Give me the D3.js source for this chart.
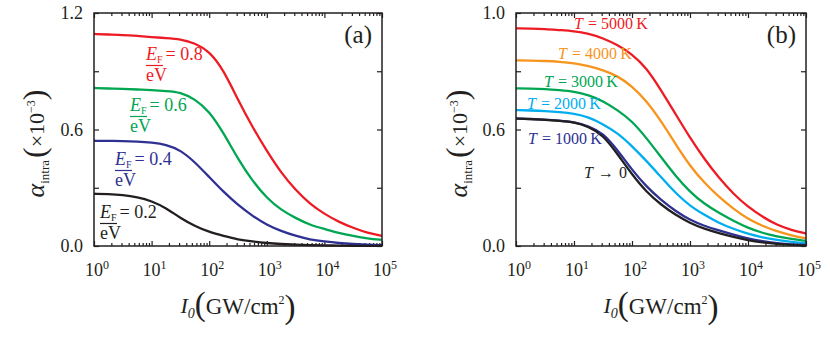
<!DOCTYPE html>
<html>
<head>
<meta charset="utf-8">
<script src="https://cdn.jsdelivr.net/npm/d3@7"></script>
</head>
<body style="margin:0">
<div class="canvas"></div>
<script>
// intensity samples, GW/cm^2 (quarter decades)
const intensity = [1, 1.778, 3.162, 5.623, 10, 17.78, 31.62, 56.23, 100, 177.8, 316.2, 562.3,
  1000, 1778, 3162, 5623, 10000, 17780, 31620, 56230, 100000];

// panel (a): different Fermi levels
const efLabels = ['0.8', '0.6', '0.4', '0.2'];
const alphaEF08 = [1.092, 1.089, 1.087, 1.082, 1.076, 1.071, 1.066, 1.045, 1.004, 0.906, 0.752,
  0.613, 0.489, 0.376, 0.288, 0.216, 0.165, 0.124, 0.093, 0.067, 0.052];
const alphaEF06 = [0.814, 0.811, 0.809, 0.806, 0.803, 0.798, 0.793, 0.757, 0.695, 0.582, 0.448,
  0.335, 0.247, 0.185, 0.144, 0.108, 0.088, 0.067, 0.052, 0.039, 0.031];
const alphaEF04 = [0.542, 0.541, 0.541, 0.538, 0.533, 0.523, 0.494, 0.433, 0.355, 0.278, 0.211,
  0.155, 0.108, 0.077, 0.052, 0.033, 0.023, 0.015, 0.010, 0.007, 0.004];
const alphaEF02 = [0.269, 0.268, 0.263, 0.252, 0.232, 0.196, 0.144, 0.103, 0.072, 0.052, 0.033,
  0.023, 0.015, 0.010, 0.007, 0.004, 0.003, 0.002, 0.001, 0.0005, 0.0002];

// panel (b): different temperatures
const tempLabels = ['5000', '4000', '3000', '2000', '1000', '0'];
const alphaT5000 = [1.121, 1.120, 1.118, 1.112, 1.107, 1.094, 1.071, 1.035, 0.989, 0.917, 0.803,
  0.680, 0.557, 0.447, 0.350, 0.268, 0.201, 0.150, 0.108, 0.082, 0.064];
const alphaT4000 = [0.956, 0.955, 0.953, 0.949, 0.942, 0.927, 0.906, 0.876, 0.824, 0.747, 0.644,
  0.525, 0.412, 0.324, 0.252, 0.191, 0.139, 0.103, 0.075, 0.054, 0.039];
const alphaT3000 = [0.812, 0.811, 0.809, 0.803, 0.796, 0.778, 0.747, 0.700, 0.644, 0.556, 0.458,
  0.361, 0.278, 0.216, 0.170, 0.129, 0.093, 0.067, 0.049, 0.036, 0.026];
const alphaT2000 = [0.700, 0.698, 0.695, 0.690, 0.682, 0.664, 0.628, 0.582, 0.515, 0.438, 0.355,
  0.273, 0.206, 0.160, 0.118, 0.088, 0.062, 0.044, 0.031, 0.021, 0.013];
const alphaT1000 = [0.657, 0.654, 0.651, 0.646, 0.639, 0.618, 0.582, 0.494, 0.392, 0.305, 0.237,
  0.180, 0.134, 0.103, 0.080, 0.058, 0.038, 0.024, 0.015, 0.008, 0.005];
const alphaT0    = [0.656, 0.653, 0.650, 0.645, 0.638, 0.615, 0.572, 0.474, 0.368, 0.278, 0.213,
  0.160, 0.118, 0.088, 0.066, 0.046, 0.029, 0.018, 0.010, 0.005, 0.003];

// axis ticks
const decadeExps = [0, 1, 2, 3, 4, 5];
const yTickVals = [0, 0.3, 0.6, 0.9, 1.2];
const yLabelVals = [0, 0.6, 1.2];
const yLabelsA = ['0.0', '0.6', '1.2'];
const yLabelsB = ['0.0', '0.6', '1.0'];

const FONT = 'Liberation Serif';
const svg = d3.select('.canvas')
  .append('svg')
    .attr('width', 830)
    .attr('height', 337);

const H = 233;
const ink = '#231f20';

// text helper, font set right away
const addText = (parent, size) => parent.append('text')
  .attr('font-family', FONT)
  .style('font-family', FONT)
  .attr('font-size', size);

function drawPanel(opt) {
  const g = svg.append('g').attr('transform', `translate(${opt.left}, 13)`);
  const x = d3.scaleLog().domain([1, 1e5]).range([0, opt.width]);
  const y = d3.scaleLinear().domain([0, 1.2]).range([H, 0]);

  const majors = decadeExps.map(e => Math.pow(10, e));
  const minors = [];
  decadeExps.slice(0, 5).forEach(e => {
    for (let k = 2; k < 10; k++) minors.push(k * Math.pow(10, e));
  });

  // inward ticks on all four sides
  const axes = [
    [d3.axisBottom(x).tickValues(majors).tickSize(-5), `translate(0, ${H})`],
    [d3.axisBottom(x).tickValues(minors).tickSize(-3), `translate(0, ${H})`],
    [d3.axisTop(x).tickValues(majors).tickSize(-5), 'translate(0, 0)'],
    [d3.axisTop(x).tickValues(minors).tickSize(-3), 'translate(0, 0)'],
    [d3.axisLeft(y).tickValues(yTickVals).tickSize(-5), 'translate(0, 0)'],
    [d3.axisRight(y).tickValues(yTickVals).tickSize(-5), `translate(${opt.width}, 0)`]
  ];
  axes.forEach(([ax, tr]) => {
    const ag = g.append('g').attr('transform', tr).call(ax.tickFormat(''));
    ag.select('.domain').remove();
    ag.selectAll('text').remove();
    ag.selectAll('line').attr('stroke', ink).attr('stroke-width', 1.2);
  });

  // curves
  const line = d3.line()
    .x(d => x(d.I))
    .y(d => y(d.v))
    .curve(d3.curveBasis);
  opt.series.forEach(s => {
    g.append('path')
      .datum(intensity.map((I, i) => ({I, v: s.values[i]})))
      .attr('fill', 'none')
      .attr('stroke', s.color)
      .attr('stroke-width', 2.3)
      .attr('d', line);
  });

  // frame
  g.append('rect')
    .attr('width', opt.width).attr('height', H)
    .attr('fill', 'none').attr('stroke', ink).attr('stroke-width', 1.5);

  // x tick labels 10^n
  decadeExps.forEach(e => {
    const t = addText(g, 18)
      .attr('x', x(Math.pow(10, e)) + 3)
      .attr('y', H + 30)
      .attr('text-anchor', 'middle')
      .attr('fill', ink);
    t.append('tspan').text('10');
    t.append('tspan').attr('font-size', 12).attr('dy', -7).text(e);
  });

  // y tick labels
  yLabelVals.forEach((v, i) => {
    addText(g, 18)
      .attr('x', -11)
      .attr('y', y(v) + 6)
      .attr('text-anchor', 'end')
      .attr('fill', ink)
      .text(opt.yLabels[i]);
  });

  // y title
  const yt = addText(g, 22)
    .attr('transform', `translate(${opt.yTitleX}, ${H / 2 + 14}) rotate(-90)`)
    .attr('text-anchor', 'middle')
    .attr('fill', ink);
  yt.append('tspan').attr('font-style', 'italic').attr('font-size', 26).text('α');
  yt.append('tspan').attr('font-size', 13).attr('dy', 5).text('intra');
  yt.append('tspan').attr('font-size', 32).attr('dy', -4).attr('dx', 2).text('(');
  yt.append('tspan').attr('font-size', 22).attr('dy', -1).text('×10');
  yt.append('tspan').attr('font-size', 12).attr('dy', -9).text('−3');
  yt.append('tspan').attr('font-size', 32).attr('dy', 10).text(')');

  // x title
  const xt = addText(g, 22)
    .attr('x', opt.width / 2)
    .attr('y', H + 67)
    .attr('text-anchor', 'middle')
    .attr('fill', ink);
  xt.append('tspan').attr('font-style', 'italic').attr('font-size', 22).text('I');
  xt.append('tspan').attr('font-style', 'italic').attr('font-size', 14).attr('dy', 5).text('0');
  xt.append('tspan').attr('font-size', 33).attr('dy', -3).text('(');
  xt.append('tspan').attr('font-size', 23).attr('dy', -1).text('GW/cm');
  xt.append('tspan').attr('font-size', 12).attr('dy', -10).text('2');
  xt.append('tspan').attr('font-size', 33).attr('dy', 14).text(')');

  // panel letter
  addText(g, 25)
    .attr('x', opt.width - 10)
    .attr('y', 30)
    .attr('text-anchor', 'end')
    .attr('fill', ink)
    .text(opt.letter);

  return g;
}

// panel (a)
const colorsA = ['#ed1c24', '#00a651', '#2e3192', '#231f20'];
const gA = drawPanel({
  left: 94, width: 288, letter: '(a)', yLabels: yLabelsA, yTitleX: -50,
  series: [alphaEF08, alphaEF06, alphaEF04, alphaEF02].map((v, i) => ({values: v, color: colorsA[i]}))
});

// E_F / eV annotations
const efPos = [[52, 47], [36, 98], [21, 152], [6, 205]];
efLabels.forEach((lab, i) => {
  const [px, py] = efPos[i];
  const t = addText(gA, 18).attr('x', px).attr('y', py).attr('fill', colorsA[i]);
  t.append('tspan').attr('font-style', 'italic').text('E');
  t.append('tspan').attr('font-size', 10).attr('dy', 3).text('F');
  t.append('tspan').attr('dy', -3).attr('dx', 3).text('= ' + lab);
  gA.append('line')
    .attr('x1', px).attr('x2', px + 17)
    .attr('y1', py + 5.5).attr('y2', py + 5.5)
    .attr('stroke', colorsA[i]).attr('stroke-width', 1.2);
  addText(gA, 18).attr('x', px).attr('y', py + 21)
    .attr('fill', colorsA[i]).text('eV');
});

// panel (b)
const colorsB = ['#ed1c24', '#f7941d', '#00a651', '#00aeef', '#2e3192', '#231f20'];
const gB = drawPanel({
  left: 516, width: 290, letter: '(b)', yLabels: yLabelsB, yTitleX: -49,
  series: [alphaT5000, alphaT4000, alphaT3000, alphaT2000, alphaT1000, alphaT0]
    .map((v, i) => ({values: v, color: colorsB[i]}))
});

const tPos = [[58, 16], [42, 46], [28, 74], [11, 96], [12, 131], [68, 165]];
tempLabels.forEach((lab, i) => {
  const [px, py] = tPos[i];
  const t = addText(gB, 16).attr('x', px).attr('y', py).attr('fill', colorsB[i]);
  t.append('tspan').attr('font-style', 'italic').text('T');
  if (lab === '0') {
    t.append('tspan').attr('dx', 5).text('→');
    t.append('tspan').attr('dx', 5).text('0');
  } else {
    t.append('tspan').attr('dx', 5).text('= ' + lab + '\u2009K');
  }
});
</script>
</body>
</html>
